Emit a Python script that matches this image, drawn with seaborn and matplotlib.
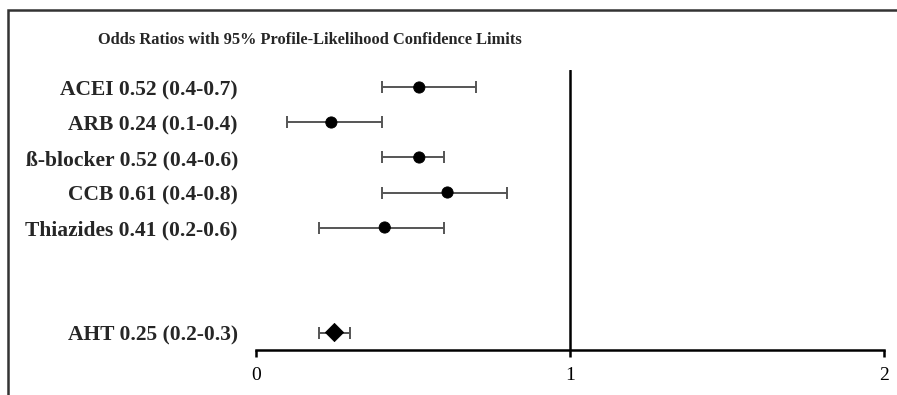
import matplotlib
matplotlib.use('Agg')
import matplotlib.pyplot as plt
from matplotlib.patches import Rectangle
import numpy as np
import pandas as pd
import seaborn as sns

# odds ratios and 95% profile-likelihood limits
drugs = ['ACEI', 'ARB', 'ß-blocker', 'CCB', 'Thiazides', '', '', 'AHT']
odds = [0.52, 0.24, 0.52, 0.61, 0.41, np.nan, np.nan, 0.25]
lower = [0.4, 0.1, 0.4, 0.4, 0.2, np.nan, np.nan, 0.2]
upper = [0.7, 0.4, 0.6, 0.8, 0.6, np.nan, np.nan, 0.3]
x_ticks = [0, 1, 2]

df = pd.DataFrame({'drug': drugs, 'odds': odds, 'lo': lower, 'hi': upper})
df['row'] = np.arange(len(df))
df['label'] = [f"{d} {o:.2f} ({l:.1f}-{h:.1f})" if d else ''
               for d, o, l, h in zip(df.drug, df.odds, df.lo, df.hi)]
df['kind'] = ['pooled' if d == 'AHT' else 'single' for d in df.drug]

sns.set_theme(style='white')
plt.rcParams['font.family'] = ['Liberation Serif', 'DejaVu Serif']

fig = plt.figure(figsize=(8.97, 3.95), dpi=100)
ax = fig.add_axes([0.2854, 0.1139, 0.7001, 0.7089])

# frame around the figure (only top/left visible, as cropped)
fig.add_artist(Rectangle((0.0089, -0.5), 2, 0.5 + 0.9747, transform=fig.transFigure,
                         fill=False, edgecolor='#333333', linewidth=1.8))

ax.axvline(1, color='black', linewidth=1.8, zorder=1)

d = df.dropna()
ax.errorbar(d.odds, d.row, xerr=[d.odds - d.lo, d.hi - d.odds], fmt='none',
            ecolor='#555555', elinewidth=1.4, capsize=4, capthick=1.4, zorder=2)
sns.scatterplot(data=d, x='odds', y='row', style='kind',
                markers={'single': 'o', 'pooled': 'D'},
                size='kind', sizes={'single': 65, 'pooled': 85},
                color='black', edgecolor='black', legend=False, ax=ax, zorder=3)

ax.set_xlim(0, 2)
ax.set_ylim(len(df) - 0.5, -0.5)
ax.set_xticks(x_ticks)
ax.set_xticklabels([str(t) for t in x_ticks], fontsize=14)
ax.set_yticks(df.row)
ax.set_yticklabels(df.label, fontsize=15.5, fontweight='bold')
ax.tick_params(axis='y', length=0, pad=13)
ax.tick_params(axis='x', length=5, width=1.8, direction='out', bottom=True, pad=7, colors='black')
ax.set_xlabel('')
ax.set_ylabel('')
for s in ['left', 'top', 'right']:
    ax.spines[s].set_visible(False)
ax.spines['bottom'].set_color('black')
ax.spines['bottom'].set_linewidth(1.8)

fig.text(0.3456, 0.899, 'Odds Ratios with 95% Profile-Likelihood Confidence Limits',
         ha='center', va='center', fontsize=11.8, fontweight='bold')

plt.savefig('out.png', dpi=100)
plt.close()
